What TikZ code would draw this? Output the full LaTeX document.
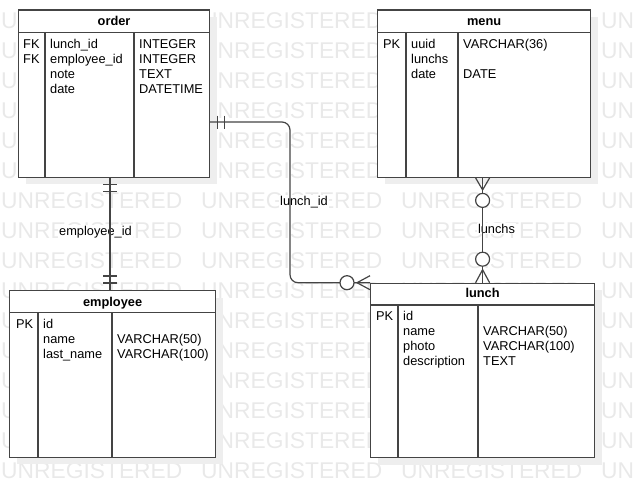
\documentclass[tikz,border=0pt]{standalone}
\usepackage{fontspec}
\setmainfont{Liberation Sans}
\usetikzlibrary{calc,positioning,shadows}
\definecolor{erline}{RGB}{68,68,68}
\definecolor{erwmark}{RGB}{233,233,233}
\definecolor{ershadow}{RGB}{238,238,238}

\begin{document}
\begin{tikzpicture}[
      x=1pt, y=-1pt,
      font=\fontsize{12.8}{15}\selectfont,
      wmark/.style={anchor=west, inner sep=0pt, text=erwmark, font=\fontsize{22.8}{24}\selectfont},
      entity/.style={draw=erline, fill=white, line width=1.2pt, anchor=north west, inner sep=0pt,
        drop shadow={shadow xshift=7pt, shadow yshift=-7pt, fill=ershadow, opacity=1}},
      etitle/.style={anchor=base, inner sep=0pt, font=\fontsize{12.8}{15}\selectfont\bfseries},
      field/.style={anchor=base west, inner sep=0pt},
      sep/.style={draw=erline, line width=1.2pt},
      rel/.style={draw=erline, line width=1.2pt},
      reltag/.style={fill=white, inner sep=1pt, anchor=base},
      zero/.style={draw=erline, fill=white, line width=1.2pt, circle, inner sep=0pt, minimum size=14pt}
    ]
      \useasboundingbox (0,0) rectangle (634,498);

      % watermark
      \begin{scope}
        \clip (0,0) rectangle (634,498);
        \foreach \r in {0,...,15}
          \foreach \c in {0,...,3}
            \node[wmark] (wm-\r-\c) at ({1+200*\c},{20.5+30*\r}) {UNREGISTERED};
      \end{scope}

      % order
      \node[entity, minimum width=191pt, minimum height=167.4pt] (order) at (18,9.3) {};
      \node[etitle] (order-title) at ($(order.north)+(0,16.5)$) {order};
      \draw[sep] ($(order.north west)+(0,23.4)$) -- ($(order.north east)+(0,23.4)$);
      \draw[sep] ($(order.north west)+(27,23.4)$) -- ($(order.south west)+(27,0)$);
      \draw[sep] ($(order.north west)+(116,23.4)$) -- ($(order.south west)+(116,0)$);
      \foreach \k/\f/\t [count=\i from 0] in {FK/lunch\_id/INTEGER, FK/employee\_id/INTEGER, /note/TEXT, /date/DATETIME} {
        \node[field] (order-k\i) at ($(order.north west)+(5,{39+15*\i})$) {\k};
        \node[field] (order-f\i) at ($(order.north west)+(32,{39+15*\i})$) {\f};
        \node[field] (order-t\i) at ($(order.north west)+(121,{39+15*\i})$) {\t};
      }

      % menu
      \node[entity, minimum width=213pt, minimum height=167.4pt] (menu) at (377,9.3) {};
      \node[etitle] (menu-title) at ($(menu.north)+(0,16.5)$) {menu};
      \draw[sep] ($(menu.north west)+(0,23.4)$) -- ($(menu.north east)+(0,23.4)$);
      \draw[sep] ($(menu.north west)+(29,23.4)$) -- ($(menu.south west)+(29,0)$);
      \draw[sep] ($(menu.north west)+(81,23.4)$) -- ($(menu.south west)+(81,0)$);
      \foreach \k/\f/\t [count=\i from 0] in {PK/uuid/VARCHAR(36), /lunchs/, /date/DATE} {
        \node[field] (menu-k\i) at ($(menu.north west)+(6,{39.5+15*\i})$) {\k};
        \node[field] (menu-f\i) at ($(menu.north west)+(34,{39.5+15*\i})$) {\f};
        \node[field] (menu-t\i) at ($(menu.north west)+(86,{39.5+15*\i})$) {\t};
      }

      % employee
      \node[entity, minimum width=206pt, minimum height=166.5pt] (employee) at (9,290) {};
      \node[etitle] (employee-title) at ($(employee.north)+(0,16.5)$) {employee};
      \draw[sep] ($(employee.north west)+(0,22.7)$) -- ($(employee.north east)+(0,22.7)$);
      \draw[sep] ($(employee.north west)+(29,22.7)$) -- ($(employee.south west)+(29,0)$);
      \draw[sep] ($(employee.north west)+(103,22.7)$) -- ($(employee.south west)+(103,0)$);
      \foreach \k/\f/\t [count=\i from 0] in {PK/id/, /name/VARCHAR(50), /last\_name/VARCHAR(100)} {
        \node[field] (employee-k\i) at ($(employee.north west)+(7,{38.4+15*\i})$) {\k};
        \node[field] (employee-f\i) at ($(employee.north west)+(34,{38.4+15*\i})$) {\f};
        \node[field] (employee-t\i) at ($(employee.north west)+(108,{38.4+15*\i})$) {\t};
      }

      % lunch
      \node[entity, minimum width=224pt, minimum height=174.3pt] (lunch) at (370,282.7) {};
      \node[etitle] (lunch-title) at ($(lunch.north)+(0,14.8)$) {lunch};
      \draw[sep] ($(lunch.north west)+(0,22.3)$) -- ($(lunch.north east)+(0,22.3)$);
      \draw[sep] ($(lunch.north west)+(28,22.3)$) -- ($(lunch.south west)+(28,0)$);
      \draw[sep] ($(lunch.north west)+(108,22.3)$) -- ($(lunch.south west)+(108,0)$);
      \foreach \k/\f/\t [count=\i from 0] in {PK/id/, /name/VARCHAR(50), /photo/VARCHAR(100), /description/TEXT} {
        \node[field] (lunch-k\i) at ($(lunch.north west)+(6,{37.3+15*\i})$) {\k};
        \node[field] (lunch-f\i) at ($(lunch.north west)+(33,{37.3+15*\i})$) {\f};
        \node[field] (lunch-t\i) at ($(lunch.north west)+(113,{37.3+15*\i})$) {\t};
      }

      % relation labels
      \node[reltag] (empidtag) at (95.5,235.5) {employee\_id};
      \node[reltag] (lunchidtag) at (304,205) {lunch\_id};
      \node[reltag] (lunchstag) at (496.5,233) {lunchs};

      \coordinate (empx) at (110,0);
      \coordinate (lidbend) at (290,122);
      \coordinate (efoot) at (order.south -| empx);
      \coordinate (ehead) at (employee.north -| empx);
      \coordinate (lstart) at (order.east |- lidbend);
      \coordinate (mfoot) at (menu.south -| lunch.north);

      % order -- employee (one to one)
      \draw[rel] (efoot) -- (ehead);
      \draw[rel] ($(efoot)+(-7,6.5)$) -- ++(14,0);
      \draw[rel] ($(efoot)+(-7,13.5)$) -- ++(14,0);
      \draw[rel] ($(ehead)+(-7,-7)$) -- ++(14,0);
      \draw[rel] ($(ehead)+(-7,-14)$) -- ++(14,0);

      % order -- lunch (one to zero or many)
      \draw[rel, rounded corners=8pt] (lstart) -- (lidbend) -- (lidbend |- lunch.north west) -- (lunch.north west);
      \draw[rel] ($(lstart)+(7,-6.5)$) -- ++(0,13);
      \draw[rel] ($(lstart)+(14,-6.5)$) -- ++(0,13);
      \draw[rel] ($(lunch.north west)+(0,-7)$) -- ($(lunch.north west)+(-13,0)$) -- ($(lunch.north west)+(0,7)$);
      \node[zero] (lidzero) at ($(lunch.north west)+(-23,0)$) {};

      % menu -- lunch (zero or many on both sides)
      \draw[rel] (mfoot) -- (lunch.north);
      \draw[rel] ($(mfoot)+(-7,0)$) -- ($(mfoot)+(0,12)$) -- ($(mfoot)+(7,0)$);
      \node[zero] (menuzero) at ($(mfoot)+(0,22.5)$) {};
      \draw[rel] ($(lunch.north)+(-7,0)$) -- ($(lunch.north)+(0,-13)$) -- ($(lunch.north)+(7,0)$);
      \node[zero] (lunchzero) at ($(lunch.north)+(0,-23.5)$) {};
    \end{tikzpicture}
\end{document}
